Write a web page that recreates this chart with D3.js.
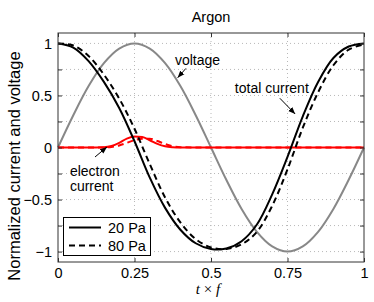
<!DOCTYPE html>
<html>
<head>
<meta charset="utf-8">
<script src="https://cdn.jsdelivr.net/npm/d3@7"></script>
<style>
  body { margin: 0; background: #fff; }
  svg { display: block; font-family: "Liberation Sans", Arial, sans-serif; }
</style>
</head>
<body>
<svg id="chart" width="374" height="302"></svg>
<script>
// time axis (t x f), sampled every 0.05
const tCurr = [0, 0.05, 0.1, 0.15, 0.2, 0.25, 0.3, 0.35, 0.4, 0.45, 0.5,
               0.55, 0.6, 0.65, 0.7, 0.75, 0.8, 0.85, 0.9, 0.95, 1];
const voltage = [0, 0.31, 0.59, 0.81, 0.95, 1, 0.95, 0.81, 0.59, 0.31, 0,
                 -0.31, -0.59, -0.81, -0.95, -1, -0.95, -0.81, -0.59, -0.31, 0];
const total20 = [1, 0.96, 0.83, 0.63, 0.38, 0.06, -0.29, -0.58, -0.79, -0.92, -0.975,
                 -0.97, -0.9, -0.74, -0.45, -0.09, 0.3, 0.63, 0.86, 0.97, 1];
const total80 = [1, 0.98, 0.88, 0.7, 0.47, 0.18, -0.16, -0.48, -0.72, -0.88, -0.96,
                 -0.975, -0.93, -0.81, -0.56, -0.21, 0.19, 0.53, 0.79, 0.94, 0.99];

// electron current, finer sampling around the pulse
const tElec = [0, 0.1, 0.15, 0.175, 0.2, 0.225, 0.25, 0.275, 0.3, 0.325, 0.35, 0.375, 0.4, 0.45, 1];
const elec20 = [0, 0, 0.003, 0.015, 0.045, 0.085, 0.105, 0.1, 0.07, 0.035, 0.012, 0.003, 0, 0, 0];
const elec80 = [0, 0, 0, 0.005, 0.02, 0.045, 0.07, 0.085, 0.085, 0.062, 0.033, 0.012, 0.003, 0, 0];

const xTicks = [0, 0.25, 0.5, 0.75, 1];
const yTicks = [-1, -0.75, -0.5, -0.25, 0, 0.25, 0.5, 0.75, 1];
const legendItems = [["20 Pa", null], ["80 Pa", "6,4"]];

const svg = d3.select("#chart");
const margin = { left: 58, right: 10, top: 33, bottom: 40 };
const W = 374, H = 302;

const x = d3.scaleLinear().domain([0, 1]).range([margin.left, W - margin.right]);
const y = d3.scaleLinear().domain([-1.1, 1.1]).range([H - margin.bottom, margin.top]);

const fmt = d => d3.format("")(d);

// dotted grid
const grid = svg.append("g");
grid.selectAll("line.gy").data(yTicks.filter(d => d !== 0)).enter().append("line")
  .attr("x1", x(0)).attr("x2", x(1))
  .attr("y1", d => y(d)).attr("y2", d => y(d))
  .attr("stroke", "#b8b8b8").attr("stroke-width", 1).attr("stroke-dasharray", "1,3");
grid.selectAll("line.gx").data(xTicks.slice(1, -1)).enter().append("line")
  .attr("y1", y(-1.1)).attr("y2", y(1.1))
  .attr("x1", d => x(d)).attr("x2", d => x(d))
  .attr("stroke", "#b8b8b8").attr("stroke-width", 1).attr("stroke-dasharray", "1,3");

// curves
const lineC = d3.line().curve(d3.curveCatmullRom.alpha(0.5));
const lineM = d3.line().curve(d3.curveMonotoneX);
const pts = (ts, vs) => ts.map((t, i) => [x(t), y(vs[i])]);

const curves = svg.append("g").attr("fill", "none").attr("stroke-width", 2);
curves.append("path").attr("d", lineC(pts(tCurr, voltage))).attr("stroke", "#888888");
curves.append("path").attr("d", lineM(pts(tElec, elec80))).attr("stroke", "#ff0000").attr("stroke-dasharray", "6,4");
curves.append("path").attr("d", lineM(pts(tElec, elec20))).attr("stroke", "#ff0000");
curves.append("path").attr("d", lineC(pts(tCurr, total80))).attr("stroke", "#000").attr("stroke-dasharray", "6,4");
curves.append("path").attr("d", lineC(pts(tCurr, total20))).attr("stroke", "#000");

// axes: box with inward ticks on all sides
const axisCol = "#333";
const gl = svg.append("g").attr("transform", `translate(${x(0)},0)`)
  .call(d3.axisLeft(y).tickValues(yTicks).tickSize(-4).tickPadding(6)
    .tickFormat(d => d % 0.5 === 0 ? fmt(d) : ""));
const gr = svg.append("g").attr("transform", `translate(${x(1)},0)`)
  .call(d3.axisRight(y).tickValues(yTicks).tickSize(-4).tickFormat(""));
const gb = svg.append("g").attr("transform", `translate(0,${y(-1.1)})`)
  .call(d3.axisBottom(x).tickValues(xTicks).tickSize(-4).tickPadding(6).tickFormat(fmt));
const gt = svg.append("g").attr("transform", `translate(0,${y(1.1)})`)
  .call(d3.axisTop(x).tickValues(xTicks).tickSize(-4).tickFormat(""));
[gl, gr, gb, gt].forEach(g => {
  g.selectAll(".domain").attr("stroke", axisCol).attr("d", null);
  g.selectAll(".tick line").attr("stroke", axisCol);
  g.selectAll("text").attr("fill", "#000").style("font-size", "14.5px")
    .style("font-family", '"Liberation Sans", Arial, sans-serif');
});
svg.append("rect")
  .attr("x", x(0)).attr("y", y(1.1))
  .attr("width", x(1) - x(0)).attr("height", y(-1.1) - y(1.1))
  .attr("fill", "none").attr("stroke", axisCol).attr("stroke-width", 1);

// legend
const lg = svg.append("g");
lg.append("rect").attr("x", 63.5).attr("y", 217.5).attr("width", 87).attr("height", 38)
  .attr("fill", "#fff").attr("stroke", "#000").attr("stroke-width", 1);
legendItems.forEach(([label, dash], i) => {
  const ly = 227.5 + i * 18;
  lg.append("line").attr("x1", 69).attr("x2", 101).attr("y1", ly).attr("y2", ly)
    .attr("stroke", "#000").attr("stroke-width", 2).attr("stroke-dasharray", dash);
  lg.append("text").attr("x", 108).attr("y", ly + 5).text(label)
    .style("font-size", "14.5px");
});

// annotations (positions in data coordinates)
svg.append("defs").append("marker")
  .attr("id", "arr").attr("viewBox", "0 0 10 10").attr("refX", 10).attr("refY", 5)
  .attr("markerWidth", 7).attr("markerHeight", 7).attr("orient", "auto")
  .append("path").attr("d", "M0,1L10,5L0,9Z").attr("fill", "#000");

const notes = [
  { lines: ["voltage"], t: 0.382, v: 0.79, from: [0.418, 0.76], to: [0.391, 0.67] },
  { lines: ["total current"], t: 0.578, v: 0.524, from: [0.725, 0.473], to: [0.775, 0.322] },
  { lines: ["electron", "current"], t: 0.039, v: -0.274, from: [0.121, -0.091], to: [0.16, 0.005] }
];
notes.forEach(n => {
  n.lines.forEach((s, i) => {
    svg.append("text").attr("x", x(n.t)).attr("y", y(n.v) + i * 14.5).text(s)
      .style("font-size", "14px");
  });
  svg.append("line")
    .attr("x1", x(n.from[0])).attr("y1", y(n.from[1]))
    .attr("x2", x(n.to[0])).attr("y2", y(n.to[1]))
    .attr("stroke", "#000").attr("stroke-width", 1).attr("marker-end", "url(#arr)");
});

// titles
svg.append("text").attr("x", 211).attr("y", 22).attr("text-anchor", "middle")
  .style("font-size", "14.5px").text("Argon");
svg.append("text").attr("transform", "translate(20,166) rotate(-90)")
  .attr("text-anchor", "middle").style("font-size", "16.5px")
  .text("Normalized current and voltage");
const xl = svg.append("text").attr("x", 208).attr("y", 294).attr("text-anchor", "middle")
  .style("font-family", '"Liberation Serif", "Times New Roman", serif').style("font-size", "15px");
xl.append("tspan").style("font-style", "italic").text("t");
xl.append("tspan").text(" × ");
xl.append("tspan").style("font-style", "italic").text("f");
</script>
</body>
</html>
